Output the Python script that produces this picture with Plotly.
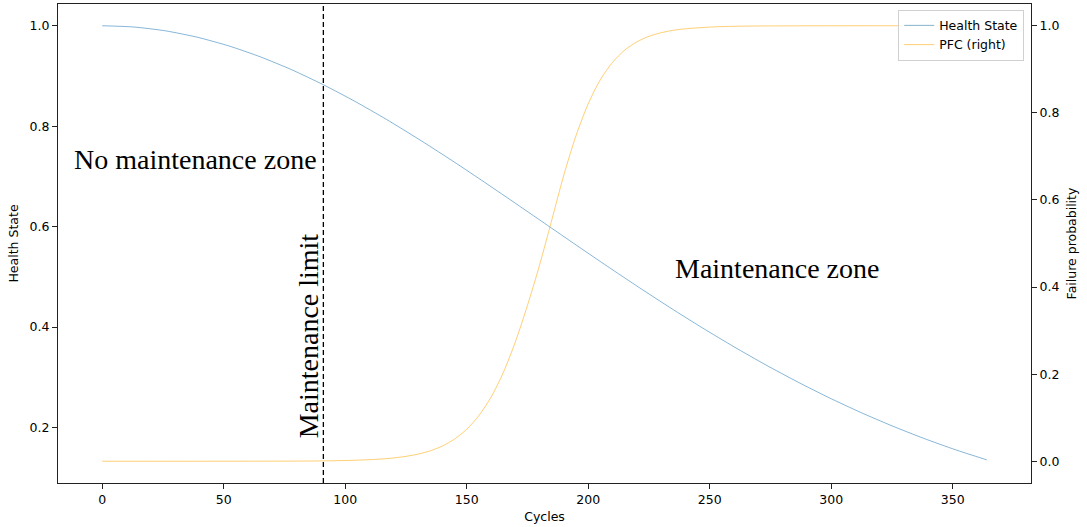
import plotly.graph_objects as go

# Health state (left axis) over operating cycles
health_cycles = [0, 13, 26, 39, 52, 65, 78, 91, 104, 117, 130, 143, 156, 169, 182,
                 195, 208, 221, 234, 247, 260, 273, 286, 299, 312, 325, 338, 351, 364]
health_state = [1.0, 0.9975, 0.9899, 0.9773, 0.9600, 0.9382, 0.9123, 0.8825, 0.8494,
                0.8133, 0.7748, 0.7345, 0.6926, 0.6498, 0.6066, 0.5633, 0.5205, 0.4785,
                0.4376, 0.3982, 0.3605, 0.3247, 0.2910, 0.2594, 0.2301, 0.2031, 0.1783,
                0.1557, 0.1354]

# Probability of failure (right axis)
pfc_cycles = [0, 40, 80, 90, 100, 110, 115, 120, 125, 130, 135, 140, 145, 150, 155,
              160, 165, 170, 175, 180, 185, 190, 195, 200, 205, 210, 215, 220, 225,
              230, 235, 240, 250, 260, 270, 300, 364]
pfc_values = [0.0, 0.0, 0.0003, 0.0007, 0.0016, 0.0035, 0.0051, 0.0076, 0.0112, 0.0164,
              0.0240, 0.035, 0.0509, 0.0735, 0.1048, 0.147, 0.203, 0.274, 0.358, 0.451,
              0.554, 0.658, 0.748, 0.821, 0.8763, 0.916, 0.9441, 0.963, 0.9758, 0.984,
              0.9897, 0.993, 0.997, 0.9988, 0.9995, 1.0, 1.0]

maintenance_limit = 91

x_ticks = [0, 50, 100, 150, 200, 250, 300, 350]
left_ticks = [0.2, 0.4, 0.6, 0.8, 1.0]
right_ticks = [0.0, 0.2, 0.4, 0.6, 0.8, 1.0]

tick_font = dict(family="DejaVu Sans", size=12.5, color="#000")
title_font = dict(family="DejaVu Sans", size=12.5, color="#000")
serif = dict(family="Liberation Serif", size=28, color="#000")

fig = go.Figure()
fig.add_trace(go.Scatter(
    x=health_cycles, y=health_state, mode="lines", name="Health State",
    line=dict(color="rgba(31,119,180,0.6)", width=0.9, shape="spline", smoothing=0.6),
))
fig.add_trace(go.Scatter(
    x=pfc_cycles, y=pfc_values, mode="lines", name="PFC (right)", yaxis="y2",
    line=dict(color="rgba(255,165,0,0.6)", width=0.9, shape="spline", smoothing=0.8),
))

fig.add_shape(type="line", x0=maintenance_limit, x1=maintenance_limit, xref="x",
              y0=0, y1=1, yref="paper",
              line=dict(color="#000", width=1.3, dash="5px,3px"))

fig.add_annotation(x=-12.5, y=0.733, xref="x", yref="y", text="No maintenance zone",
                   showarrow=False, xanchor="left", yanchor="middle", font=serif)
fig.add_annotation(x=235, y=0.516, xref="x", yref="y", text="Maintenance zone",
                   showarrow=False, xanchor="left", yanchor="middle", font=serif)
fig.add_annotation(x=84.8, y=0.382, xref="x", yref="y", text="Maintenance limit",
                   showarrow=False, textangle=-90, xanchor="center", yanchor="middle",
                   font=serif)

axis_common = dict(showgrid=False, zeroline=False, showline=True, linecolor="#222",
                   linewidth=1.2, ticks="outside", ticklen=5, tickcolor="#222",
                   tickwidth=1, tickfont=tick_font)

fig.update_layout(
    width=1087, height=527,
    margin=dict(l=58, r=56, t=4, b=44),
    paper_bgcolor="white", plot_bgcolor="white",
    showlegend=True,
    legend=dict(x=0.993, y=0.988, xanchor="right", yanchor="top",
                bgcolor="rgba(255,255,255,0.85)", bordercolor="#d0d0d0", borderwidth=1,
                font=dict(family="DejaVu Sans", size=12.5, color="#000"),
                tracegroupgap=0, itemwidth=30),
    xaxis=dict(axis_common, range=[-18.2, 382.2], tickvals=x_ticks, mirror=True,
               title=dict(text="Cycles", font=title_font, standoff=6)),
    yaxis=dict(axis_common, range=[0.0893, 1.0433], tickvals=left_ticks,
               tickformat=".1f",
               title=dict(text="Health State", font=title_font, standoff=8)),
    yaxis2=dict(axis_common, range=[-0.05, 1.05], tickvals=right_ticks, tickformat=".1f",
                overlaying="y", side="right",
                title=dict(text="Failure probability", font=title_font, standoff=8)),
)

fig.write_html("out.html")
